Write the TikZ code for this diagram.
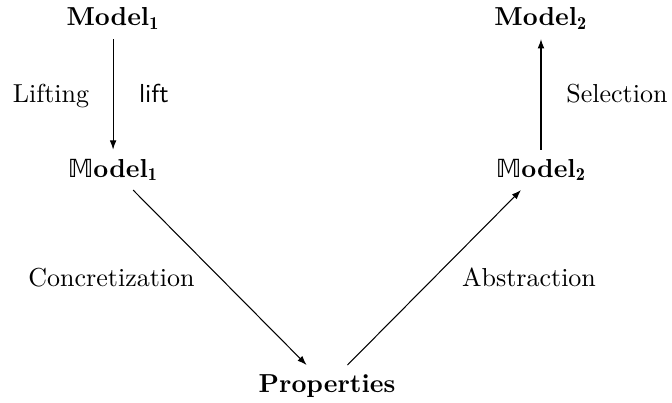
\documentclass[tikz,border=0pt]{standalone}
\usepackage{fontspec}
\newfontfamily\dsfont{DejaVu Sans}
\usetikzlibrary{arrows.meta}
\tikzset{
  obj/.style={anchor=base, inner sep=3.33pt},
  lbl/.style={anchor=base, inner sep=0pt},
  map/.style={-{Latex[length=3.6pt,width=2.6pt]}, line width=0.4pt},
}
\newcommand{\liftM}{{\dsfont\fontsize{9.6pt}{10pt}\selectfont 𝕄}}
\begin{document}
\begin{tikzpicture}[x=1pt,y=1pt]
  \useasboundingbox (0,0) rectangle (258.5,155);
  % objects
  \node[obj] (m1)  at (43.5,145.0)  {\textbf{Model}$_{\mathbf{1}}$};
  \node[obj] (m1l) at (43.5,86.9)   {\liftM\textbf{odel}$_{\mathbf{1}}$};
  \node[obj] (m2)  at (208.1,145.0) {\textbf{Model}$_{\mathbf{2}}$};
  \node[obj] (m2l) at (208.1,86.9)  {\liftM\textbf{odel}$_{\mathbf{2}}$};
  \node[obj] (pr)  at (125.8,4.2)   {\textbf{Properties}};
  % maps between them
  \draw[map] (m1) -- (m1l);
  \draw[map] (m1l) -- (pr);
  \draw[map] (pr) -- (m2l);
  \draw[map] (m2l) -- (m2);
  % labels
  \node[lbl] (llift) at (19.6,115.6)  {Lifting};
  \node[lbl] (lfn)   at (59.2,115.6)  {\textsf{lift}};
  \node[lbl] (lsel)  at (237.3,115.6) {Selection};
  \node[lbl] (lcon)  at (42.9,44.6)   {Concretization};
  \node[lbl] (labs)  at (203.5,44.6)  {Abstraction};
\end{tikzpicture}
\end{document}
